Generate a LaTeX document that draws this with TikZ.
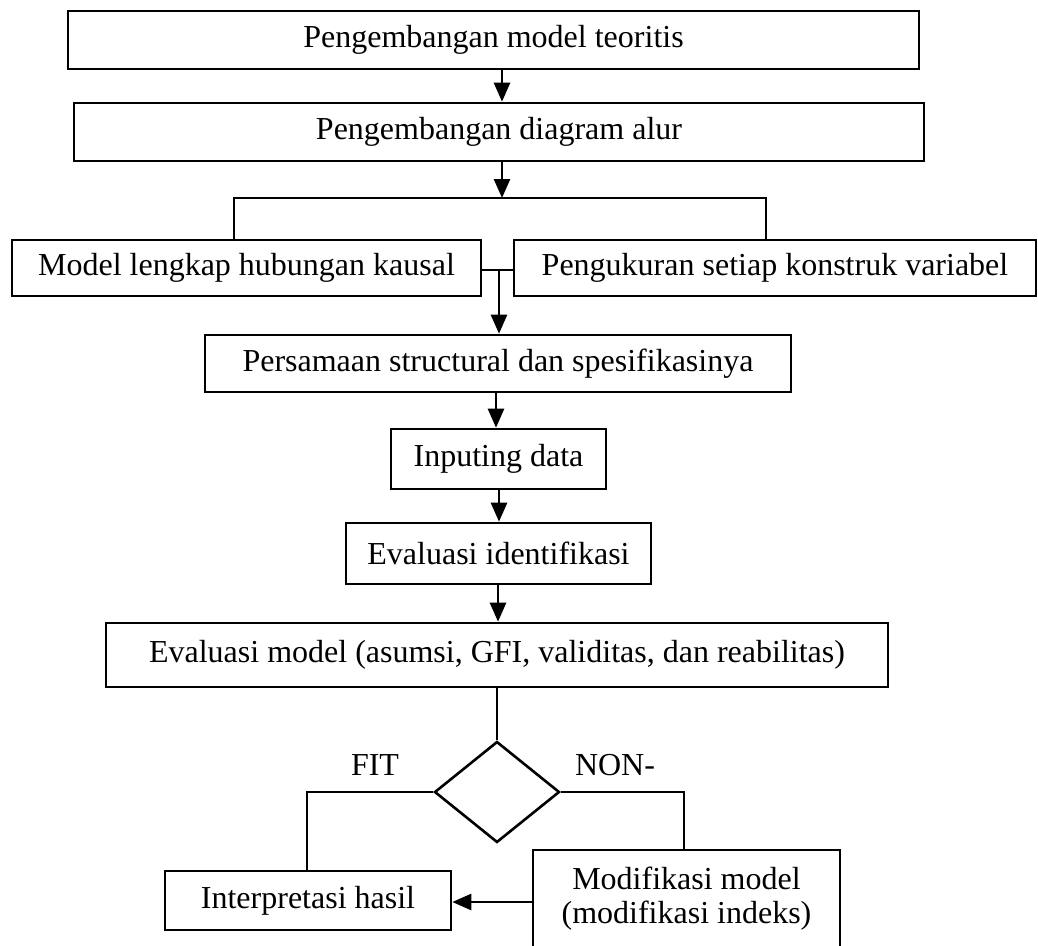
\documentclass[tikz,border=0pt]{standalone}
\usepackage{fontspec}
\setmainfont{Liberation Serif}
\usetikzlibrary{shapes.geometric,arrows.meta}

\begin{document}
\begin{tikzpicture}[x=1pt,y=-1pt,
  every node/.style={font=\fontsize{32}{34}\selectfont},
  box/.style={draw,line width=2.6pt,inner sep=0pt,align=center},
  decide/.style={draw,diamond,line width=2.6pt,inner sep=0pt,minimum width=125pt,minimum height=101pt},
  link/.style={line width=2.6pt},
  flow/.style={line width=2.6pt,-{Triangle[width=16pt,length=19pt]}},
  lbl/.style={inner sep=0pt}]

\useasboundingbox (0,0) rectangle (1038,945);

% process boxes
\node[box,minimum width=851pt,minimum height=58pt] (teori) at (493.5,40) {Pengembangan model teoritis};
\node[box,minimum width=850pt,minimum height=58pt] (alur) at (499,132) {Pengembangan diagram alur};
\node[box,minimum width=469pt,minimum height=56pt] (kausal) at (246.5,268) {Model lengkap hubungan kausal};
\node[box,minimum width=522pt,minimum height=56pt] (ukur) at (775,268) {Pengukuran setiap konstruk variabel};
\node[box,minimum width=586pt,minimum height=57pt] (persamaan) at (498,363.5) {Persamaan structural dan spesifikasinya};
\node[box,minimum width=215pt,minimum height=60pt] (input) at (498.5,459) {Inputing data};
\node[box,minimum width=305pt,minimum height=61pt] (ident) at (498.5,553.5) {Evaluasi identifikasi};
\node[box,minimum width=782pt,minimum height=64pt] (evalmodel) at (497,655) {Evaluasi model (asumsi, GFI, validitas, dan reabilitas)};
\node[decide] (cek) at (497,792) {};
\node[box,minimum width=286pt,minimum height=59pt] (hasil) at (308,900.5) {Interpretasi hasil};
\node[box,minimum width=307pt,minimum height=97pt] (modif) at (686.5,898.5) {Modifikasi model\\(modifikasi indeks)};

% branch labels
\node[lbl] (fit) at (375,765) {FIT};
\node[lbl] (nonfit) at (615,765) {NON-};

% junction points
\coordinate (split) at (502,198);
\coordinate (splitL) at (234,198);
\coordinate (splitR) at (766,198);
\coordinate (join) at (499,270);

% connectors
\draw[flow] (teori.south -| 502,0) -- (alur.north -| 502,0);
\draw[flow] (alur.south -| split) -- (split);
\draw[link] (splitL |- kausal.north) -- (splitL) -- (splitR) -- (splitR |- ukur.north);
\draw[link] (kausal.east |- join) -- (ukur.west |- join);
\draw[flow] (join) -- (persamaan.north -| join);
\draw[flow] (persamaan.south -| 496,0) -- (input.north -| 496,0);
\draw[flow] (input.south -| 499,0) -- (ident.north -| 499,0);
\draw[flow] (ident.south -| 498,0) -- (evalmodel.north -| 498,0);
\draw[link] (evalmodel.south -| cek.north) -- (cek.north);
\draw[link] (cek.west) -| (307,0 |- hasil.north);
\draw[link] (cek.east) -| (684,0 |- modif.north);
\draw[flow] (modif.west |- 0,902) -- (hasil.east |- 0,902);

\end{tikzpicture}
\end{document}
